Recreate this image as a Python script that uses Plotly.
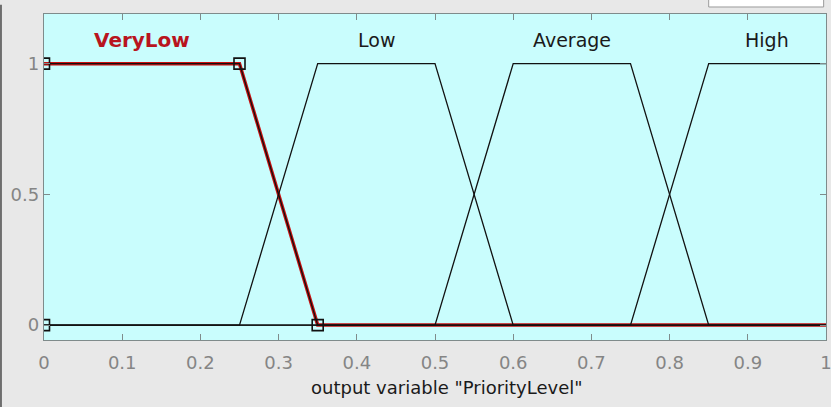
import plotly.graph_objects as go

# Membership function parameters (trapezoids a, b, c, d) on [0, 1]
mf_names = ["VeryLow", "Low", "Average", "High"]
mf_params = [
    [0.0, 0.0, 0.25, 0.35],
    [0.25, 0.35, 0.5, 0.6],
    [0.5, 0.6, 0.75, 0.85],
    [0.75, 0.85, 1.0, 1.0],
]
selected = 0  # VeryLow highlighted
x_ticks = [0, 0.1, 0.2, 0.3, 0.4, 0.5, 0.6, 0.7, 0.8, 0.9, 1]
x_tick_labels = ["0", "0.1", "0.2", "0.3", "0.4", "0.5", "0.6", "0.7", "0.8", "0.9", "1"]
y_ticks = [0, 0.5, 1]
y_tick_labels = ["0", "0.5", "1"]
x_title = 'output variable "PriorityLevel"'
x_min, x_max = 0.0, 1.0


def trap_val(p, x):
    a, b, c, d = p
    if x < a or x > d:
        return 0.0
    if b <= x <= c:
        return 1.0
    if x < b:
        return (x - a) / (b - a)
    return (d - x) / (d - c)


def trap_xy(p):
    a, b, c, d = p
    xs = [x_min]
    if a > x_min:
        xs.append(a)
    if b > x_min:
        xs.append(b)
    if c < x_max:
        xs.append(c)
    if d < x_max:
        xs.append(d)
    xs.append(x_max)
    return xs, [trap_val(p, x) for x in xs]


fig = go.Figure()

# selected MF in thick red
sx, sy = trap_xy(mf_params[selected])
fig.add_trace(go.Scatter(x=sx, y=sy, mode="lines",
                         line=dict(color="#c81010", width=3.5), hoverinfo="skip"))

# all MFs in thin black
for p in mf_params:
    px, py = trap_xy(p)
    fig.add_trace(go.Scatter(x=px, y=py, mode="lines",
                             line=dict(color="#111111", width=1.3), hoverinfo="skip"))

# square markers at the selected MF's parameter points
a, b, c, d = mf_params[selected]
fig.add_trace(go.Scatter(x=[a, b, c, d], y=[0, 1, 1, 0], mode="markers",
                         marker=dict(symbol="square-open", size=11,
                                     color="#111111", line=dict(width=1.6)),
                         hoverinfo="skip"))

# MF labels above the plateaus
for i, (name, p) in enumerate(zip(mf_names, mf_params)):
    xc = (p[1] + p[2]) / 2
    fig.add_annotation(x=xc, y=1.09, xref="x", yref="y", text=name, showarrow=False,
                       xanchor="center", yanchor="middle",
                       font=dict(family="DejaVu Sans", size=20 if i == selected else 19,
                                 color="#b8141e" if i == selected else "#1a1a1a",
                                 weight="bold" if i == selected else "normal"))

# x axis title as annotation
fig.add_annotation(x=0.515, y=-0.147, xref="paper", yref="paper", text=x_title,
                   showarrow=False, xanchor="center", yanchor="middle",
                   font=dict(family="DejaVu Sans", size=18, color="#1a1a1a"))

# decorations: white box at top right, dark line at far left
fig.add_shape(type="rect", xref="paper", yref="paper", x0=0.850, x1=0.997,
              y0=1.0215, y1=1.06, fillcolor="white", line=dict(color="#9a9a9a", width=1),
              layer="above")
fig.add_shape(type="line", xref="paper", yref="paper", x0=-0.055, x1=-0.055,
              y0=-0.21, y1=1.028, line=dict(color="#222222", width=1.2))

axis_common = dict(showline=True, linecolor="#7f8b8b", linewidth=1.3, mirror="ticks",
                   ticks="inside", ticklen=6, tickcolor="#7f8b8b", tickwidth=1.3,
                   showgrid=False, zeroline=False, automargin=False,
                   ticklabeloverflow="allow",
                   tickfont=dict(family="DejaVu Sans", size=18, color="#858585"))

fig.update_xaxes(range=[x_min, x_max], tickvals=x_ticks, ticktext=x_tick_labels,
                 ticklabelstandoff=6, **axis_common)
fig.update_yaxes(range=[-0.057, 1.19], tickvals=y_ticks, ticktext=y_tick_labels,
                 ticklabelstandoff=0, **axis_common)

fig.update_layout(
    width=831, height=407,
    margin=dict(l=44, r=5, t=14, b=67, pad=0, autoexpand=False),
    paper_bgcolor="#e8e8e8", plot_bgcolor="#c9fdfd",
    showlegend=False,
)

fig.write_html("out.html", config={"displayModeBar": False},
               post_script="document.body.style.margin='0';document.body.style.overflow='hidden';")
